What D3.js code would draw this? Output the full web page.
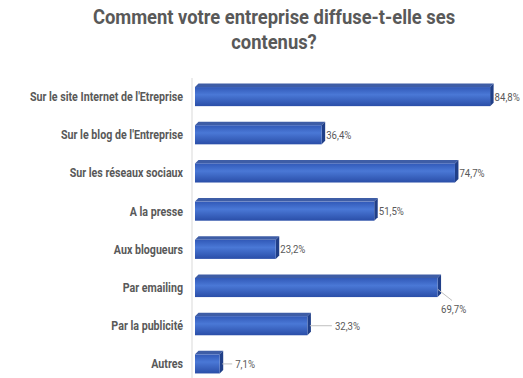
<!DOCTYPE html>
<html>
<head>
  <meta charset="utf-8">
  <title>diffusion-contenus</title>
  <style>
    body { margin: 0; background: #fff; }
    .title { font-family: Roboto, sans-serif; font-weight: 700; fill: #595959; }
    .cat { font-family: Roboto, sans-serif; font-weight: 700; fill: #595959; font-size: 12px; }
    .val { font-family: Roboto, sans-serif; fill: #595959; font-size: 11px; }
  </style>
  <script src="https://cdn.jsdelivr.net/npm/d3@7"></script>
</head>
<body>
<script>
  var categories = ["Sur le site Internet de l'Etreprise", "Sur le blog de l'Entreprise", "Sur les réseaux sociaux",
                    "A la presse", "Aux blogueurs", "Par emailing", "Par la publicité", "Autres"];
  var values = [84.8, 36.4, 74.7, 51.5, 23.2, 69.7, 32.3, 7.1];
  var labels = ["84,8%", "36,4%", "74,7%", "51,5%", "23,2%", "69,7%", "32,3%", "7,1%"];

  var W = 523, H = 378;
  var sx = 0.875; // texte "condensé"
  var svg = d3.select("body").append("svg").attr("width", W).attr("height", H);

  // gradients for the 3D bars
  var defs = svg.append("defs");
  var gf = defs.append("linearGradient").attr("id", "front").attr("x1", 0).attr("y1", 0).attr("x2", 0).attr("y2", 1);
  gf.append("stop").attr("offset", "0%").attr("stop-color", "#3159b8");
  gf.append("stop").attr("offset", "40%").attr("stop-color", "#4a78d6");
  gf.append("stop").attr("offset", "100%").attr("stop-color", "#2a4ea8");

  // title
  var title = svg.append("g").attr("transform", "translate(274,0) scale(" + sx + ",1)")
    .append("text").attr("class", "title").attr("text-anchor", "middle").style("font-size", "21px");
  title.append("tspan").attr("x", 0).attr("y", 24).text("Comment votre entreprise diffuse-t-elle ses");
  title.append("tspan").attr("x", 0).attr("y", 49).text("contenus?");

  var x = d3.scaleLinear().domain([0, 100]).range([195, 543]);
  var y = d3.scaleBand().domain(categories).range([77.5, 383]).paddingInner(0.5).paddingOuter(0.25);

  // axis line
  svg.append("line").attr("x1", 192).attr("x2", 192).attr("y1", 78).attr("y2", H)
    .attr("stroke", "#d9d9d9").attr("stroke-width", 1);

  var depth = 3.5;
  var data = categories.map(function(c, i) { return {cat: c, v: values[i], lab: labels[i]}; });

  var bars = svg.selectAll(".bar").data(data).enter().append("g").attr("class", "bar");

  // top face
  bars.append("path")
    .attr("d", function(d) {
      var x0 = x(0), x1 = x(d.v), y0 = y(d.cat);
      return "M" + x0 + "," + y0 + "L" + (x0 + depth) + "," + (y0 - depth) + "L" + (x1 + depth) + "," + (y0 - depth) + "L" + x1 + "," + y0 + "Z";
    })
    .attr("fill", "#3e5da6");
  // right side
  bars.append("path")
    .attr("d", function(d) {
      var x1 = x(d.v), y0 = y(d.cat), h = y.bandwidth();
      return "M" + x1 + "," + y0 + "L" + (x1 + depth) + "," + (y0 - depth) + "L" + (x1 + depth) + "," + (y0 + h - depth) + "L" + x1 + "," + (y0 + h) + "Z";
    })
    .attr("fill", "#203f88");
  // front face
  bars.append("rect")
    .attr("x", x(0))
    .attr("y", function(d) { return y(d.cat); })
    .attr("width", function(d) { return x(d.v) - x(0); })
    .attr("height", y.bandwidth())
    .attr("fill", "url(#front)");

  // category labels
  svg.selectAll(".catg").data(data).enter().append("g")
    .attr("class", "catg")
    .attr("transform", function(d) { return "translate(183," + (y(d.cat) + y.bandwidth() / 2 + 4.5) + ") scale(0.89,1)"; })
    .append("text")
    .attr("class", "cat")
    .attr("text-anchor", "end")
    .text(function(d) { return d.cat; });

  function valText(px, py, t) {
    svg.append("g").attr("transform", "translate(" + px + "," + py + ") scale(" + sx + ",1)")
      .append("text").attr("class", "val").text(t);
  }

  // value labels, some with leader lines
  var offs = {"Par la publicité": 24, "Autres": 12};
  data.forEach(function(d) {
    var xe = x(d.v) + depth, yc = y(d.cat) + y.bandwidth() / 2;
    if (d.cat === "Par emailing") {
      svg.append("line").attr("x1", xe - 3).attr("y1", yc + 2).attr("x2", xe + 11).attr("y2", yc + 13)
        .attr("stroke", "#bfbfbf");
      valText(xe, yc + 25, d.lab);
    } else if (offs[d.cat]) {
      svg.append("line").attr("x1", xe - 1).attr("y1", yc).attr("x2", xe + offs[d.cat] - 3).attr("y2", yc)
        .attr("stroke", "#bfbfbf");
      valText(xe + offs[d.cat], yc + 4, d.lab);
    } else {
      valText(xe + 1, yc + 4, d.lab);
    }
  });
</script>
</body>
</html>
